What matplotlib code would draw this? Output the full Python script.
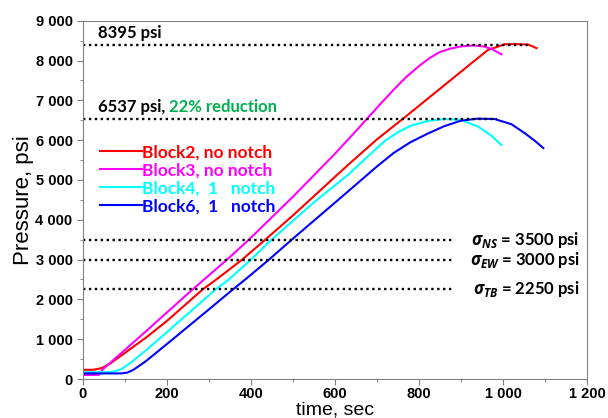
import matplotlib
matplotlib.use('Agg')
import matplotlib.pyplot as plt
from matplotlib.ticker import MultipleLocator, FuncFormatter

plt.rcParams['font.family'] = ['Liberation Sans', 'DejaVu Sans']
plt.rcParams['mathtext.fontset'] = 'custom'
plt.rcParams['mathtext.it'] = 'Open Sans:italic:bold'
plt.rcParams['mathtext.rm'] = 'Open Sans:bold'

# 读出的曲线数据 (time, sec / pressure, psi)
t_b2 = [0, 25, 45, 65, 90, 150, 200, 285, 320, 379, 434, 500, 632, 700, 766, 861, 921, 964, 1004, 1030, 1060, 1080]
p_b2 = [230, 232, 275, 390, 580, 1040, 1460, 2250, 2520, 3000, 3500, 4110, 5388, 6020, 6573, 7385, 7900, 8264, 8407, 8412, 8400, 8310]

t_b3 = [0, 38, 46, 150, 261, 343, 395, 500, 600, 650, 703, 740, 770, 800, 825, 849, 875, 901, 930, 956, 975, 996]
p_b3 = [100, 105, 230, 1200, 2250, 3000, 3500, 4580, 5660, 6230, 6850, 7270, 7590, 7860, 8060, 8210, 8300, 8355, 8380, 8350, 8280, 8156]

t_b4 = [0, 50, 70, 90, 110, 150, 200, 316, 348, 400, 449, 550, 632, 680, 720, 750, 780, 820, 860, 900, 941, 970, 996]
p_b4 = [170, 170, 180, 240, 380, 720, 1180, 2250, 2506, 3000, 3500, 4440, 5138, 5610, 5990, 6200, 6360, 6480, 6530, 6510, 6337, 6130, 5880]

t_b6 = [0, 90, 105, 120, 150, 200, 300, 357, 387, 443, 497, 632, 700, 740, 780, 820, 860, 900, 940, 980, 1020, 1052, 1075, 1096]
p_b6 = [140, 140, 160, 230, 450, 880, 1750, 2250, 2506, 3000, 3500, 4720, 5340, 5680, 5950, 6160, 6350, 6490, 6540, 6530, 6400, 6172, 5990, 5800]

labels = ['Block2, no notch', 'Block3, no notch', 'Block4,  1   notch', 'Block6,  1   notch']
colors = ['#FF0000', '#FF00FF', '#00FFFF', '#0000FF']

peak_levels = [8395, 6537]
peak_ends = [1060, 985]
stress_levels = [3500, 3000, 2250]
stress_names = ['NS', 'EW', 'TB']

fig = plt.figure(figsize=(6.08, 4.18), dpi=100)
ax = fig.add_axes([0.1365, 0.0933, 0.829, 0.8572])

for t, p, lab, c in zip([t_b2, t_b3, t_b4, t_b6], [p_b2, p_b3, p_b4, p_b6], labels, colors):
    ax.plot(t, p, color=c, lw=1.5, label=lab)

# 水平虚线
for lv, te in zip(peak_levels, peak_ends):
    ax.plot([0, te], [lv, lv], color='black', ls=(0, (1, 1.5)), lw=1.7)
for lv in stress_levels:
    ax.plot([0, 880], [lv, lv], color='black', ls=(0, (1, 1.5)), lw=1.7)

txt = dict(family=['Lato', 'DejaVu Sans'], fontweight='bold', fontsize=12)
ax.text(35, 8480, '8395 psi', color='black', va='bottom', **txt)
t1 = ax.text(35, 6620, '6537 psi, ', color='black', va='bottom', **txt)
fig.canvas.draw()
ex = t1.get_window_extent()
x_end = ax.transData.inverted().transform((ex.x1, ex.y0))[0]
ax.text(x_end, 6620, '22% reduction', color='#00B050', va='bottom', **txt)

for lv, nm in zip(stress_levels, stress_names):
    ax.text(1182, lv, r'$\sigma_{' + nm + '}$ = %d psi' % lv, ha='right', va='center',
            color='black', **txt)

leg = ax.legend(loc='upper left', bbox_to_anchor=(0.02, 0.675), frameon=False,
                handlelength=2.4, handletextpad=0.0, labelspacing=0.12, borderaxespad=0,
                labelcolor='linecolor', prop={'family': 'Lato', 'weight': 'bold', 'size': 12.5})

ax.set_xlim(0, 1200)
ax.set_ylim(0, 9000)
ax.xaxis.set_major_locator(MultipleLocator(200))
ax.xaxis.set_minor_locator(MultipleLocator(100))
ax.yaxis.set_major_locator(MultipleLocator(1000))
ax.yaxis.set_minor_locator(MultipleLocator(500))
fmt = FuncFormatter(lambda v, pos: f'{int(v):,}'.replace(',', ' '))
ax.xaxis.set_major_formatter(fmt)
ax.yaxis.set_major_formatter(fmt)
ax.tick_params(which='both', direction='out', color='#808080', labelsize=10.5)
ax.tick_params(which='major', length=4)
ax.tick_params(which='minor', length=2)
ax.tick_params(axis='x', pad=2)
for lab in ax.get_xticklabels() + ax.get_yticklabels():
    lab.set_fontweight('bold')
for s in ax.spines.values():
    s.set_color('#808080')

ax.set_xlabel('time, sec', fontsize=14, labelpad=0)
ax.set_ylabel('Pressure, psi', fontsize=16, labelpad=1)

plt.savefig('out.png', dpi=100)
